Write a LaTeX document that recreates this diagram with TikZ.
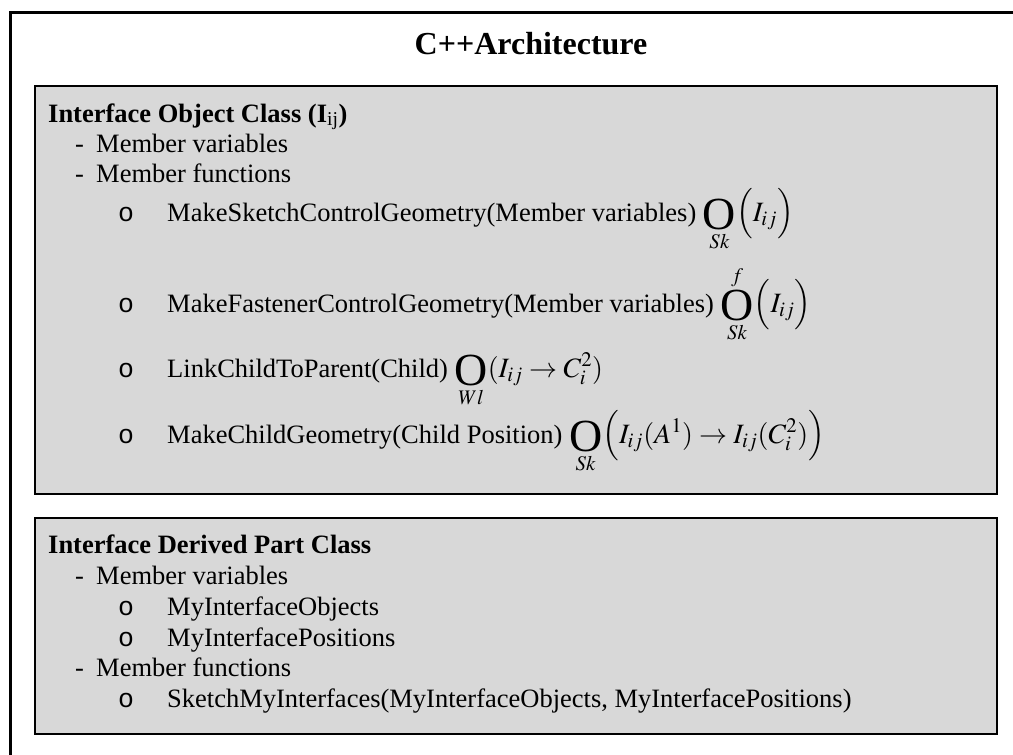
\documentclass[tikz,border=0pt]{standalone}
\usepackage{mathptmx}
\usepackage[no-math]{fontspec}
\setmainfont{Liberation Serif}
\newfontfamily\monofont{Liberation Mono}
\definecolor{boxgray}{RGB}{216,216,216}
\newcommand{\bodyfont}{\fontsize{26.5}{30}\selectfont}
\newcommand{\mathfont}{\fontsize{28}{30}\selectfont}
\newcommand{\titlefont}{\fontsize{32}{36}\selectfont\bfseries}
\newcommand{\bigOp}{\mathop{\vcenter{\hbox{\fontsize{46}{46}\selectfont O}}}\limits}

\begin{document}
\begin{tikzpicture}[x=1pt, y=-1pt,
	box/.style={draw=black, fill=boxgray, line width=1.6pt},
	txt/.style={anchor=base west, inner sep=0pt, font=\bodyfont},
	bul/.style={anchor=base west, inner sep=0pt, font=\bodyfont\monofont}]
	\useasboundingbox (0,0) rectangle (1013,755);
	\clip (0,0) rectangle (1013,755);
	\fill[white] (0,0) rectangle (1013,755);
	\draw[line width=3pt] (10,770) -- (10,12.5) -- (1030,12.5);
	\node[anchor=base, inner sep=0pt, font=\titlefont] (title) at (531,54) {C++Architecture};

	% interface object class
	\draw[box] (35,86) rectangle (997,494);
	\node[txt] (iocHead) at (48,122) {\textbf{Interface Object Class (I}\textsubscript{ij}\textbf{)}};
	\node[txt] (iocDashA) at (75,152) {-};
	\node[txt] (iocVars) at (96,152) {Member variables};
	\node[txt] (iocDashB) at (75,182) {-};
	\node[txt] (iocFuncs) at (96,182) {Member functions};
	\node[bul] (iocBulA) at (118,221) {o};
	\node[txt] (iocSketch) at (167,221) {MakeSketchControlGeometry(Member variables) {\mathfont$\bigOp_{Sk}\Bigl(I_{ij}\Bigr)$}};
	\node[bul] (iocBulB) at (118,312) {o};
	\node[txt] (iocFast) at (167,312) {MakeFastenerControlGeometry(Member variables) {\mathfont$\bigOp_{Sk}^{f}\Bigl(I_{ij}\Bigr)$}};
	\node[bul] (iocBulC) at (118,377) {o};
	\node[txt] (iocLink) at (167,377) {LinkChildToParent(Child) {\mathfont$\bigOp_{Wl}(I_{ij}\rightarrow C_i^2)$}};
	\node[bul] (iocBulD) at (118,443) {o};
	\node[txt] (iocChild) at (167,443) {MakeChildGeometry(Child Position) {\mathfont$\bigOp_{Sk}\Bigl(I_{ij}(A^1)\rightarrow I_{ij}(C_i^2)\Bigr)$}};

	% interface derived part class
	\draw[box] (35,518) rectangle (997,734);
	\node[txt] (idpHead) at (48,553) {\textbf{Interface Derived Part Class}};
	\node[txt] (idpDashA) at (75,584) {-};
	\node[txt] (idpVars) at (96,584) {Member variables};
	\node[bul] (idpBulA) at (118,615) {o};
	\node[txt] (idpObjs) at (167,615) {MyInterfaceObjects};
	\node[bul] (idpBulB) at (118,646) {o};
	\node[txt] (idpPos) at (167,646) {MyInterfacePositions};
	\node[txt] (idpDashB) at (75,676) {-};
	\node[txt] (idpFuncs) at (96,676) {Member functions};
	\node[bul] (idpBulC) at (118,707) {o};
	\node[txt] (idpSketch) at (167,707) {SketchMyInterfaces(MyInterfaceObjects, MyInterfacePositions)};
\end{tikzpicture}
\end{document}
